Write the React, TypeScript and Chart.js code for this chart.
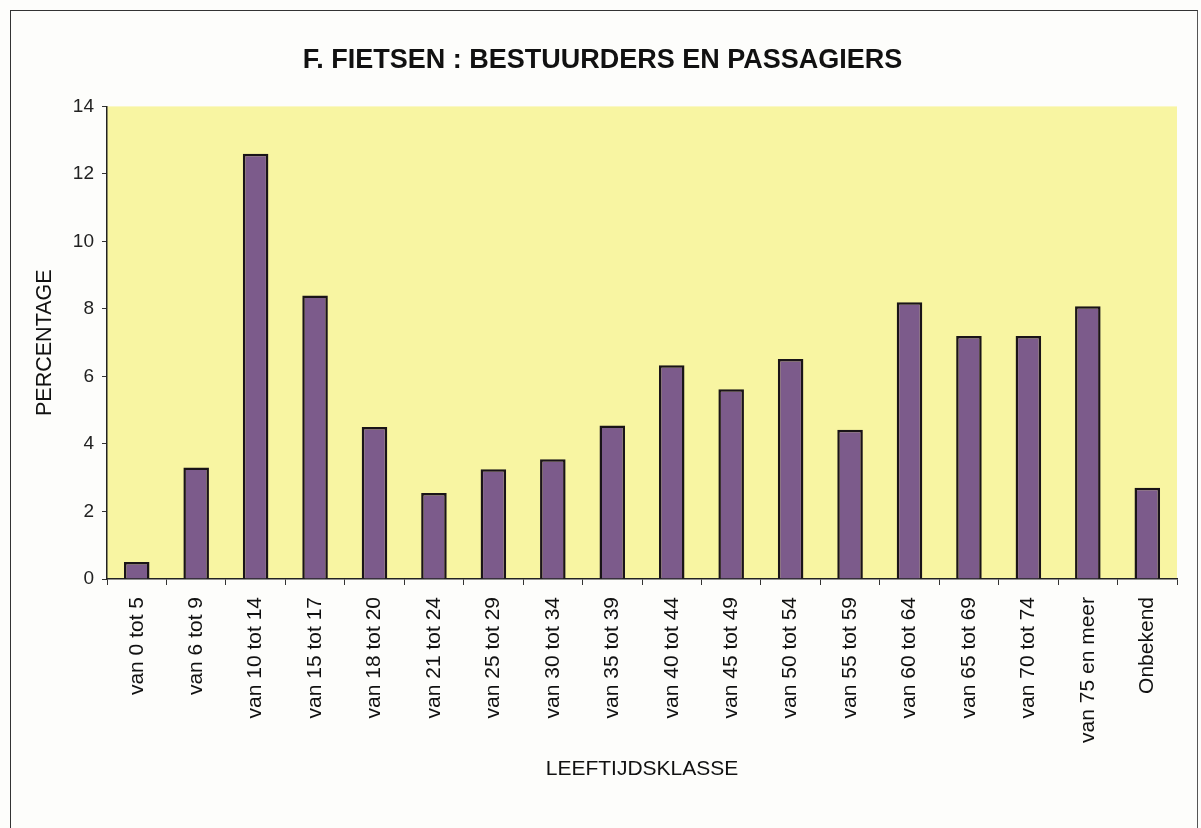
import React, { useEffect, useRef } from "react";
import { Chart, registerables } from "chart.js";

Chart.register(...registerables);

const categories: string[] = [
  "van 0 tot 5", "van 6 tot 9", "van 10 tot 14", "van 15 tot 17", "van 18 tot 20",
  "van 21 tot 24", "van 25 tot 29", "van 30 tot 34", "van 35 tot 39", "van 40 tot 44",
  "van 45 tot 49", "van 50 tot 54", "van 55 tot 59", "van 60 tot 64", "van 65 tot 69",
  "van 70 tot 74", "van 75 en meer", "Onbekend",
];
const percentages: number[] = [
  0.5, 3.3, 12.6, 8.4, 4.5, 2.55, 3.25, 3.55, 4.55, 6.33, 5.62, 6.52, 4.42, 8.2, 7.2, 7.2, 8.08, 2.7,
];
const titleText = "F. FIETSEN : BESTUURDERS EN PASSAGIERS";
const yTitle = "PERCENTAGE";
const xTitle = "LEEFTIJDSKLASSE";

const FONT = "'Liberation Sans', Arial, sans-serif";

const plotBg = {
  id: "plotBg",
  beforeDraw(chart: any) {
    const { ctx, chartArea } = chart;
    ctx.save();
    ctx.fillStyle = "#f8f5a2";
    ctx.fillRect(chartArea.left, chartArea.top, chartArea.right - chartArea.left, chartArea.bottom - chartArea.top);
    ctx.restore();
  },
};

export default function App() {
  const ref = useRef<HTMLCanvasElement | null>(null);
  useEffect(() => {
    if (!ref.current) return;
    const chart = new Chart(ref.current, {
      type: "bar",
      data: {
        labels: categories,
        datasets: [
          {
            data: percentages,
            backgroundColor: "#7c5b8b",
            borderColor: "#1a1418",
            borderWidth: 2.5,
            barPercentage: 0.43,
            categoryPercentage: 1,
          },
        ],
      },
      plugins: [plotBg],
      options: {
        animation: false,
        responsive: false,
        layout: { padding: { left: 28, right: 24, top: 0, bottom: 43 } },
        plugins: {
          legend: { display: false },
          tooltip: { enabled: false },
          title: {
            display: true,
            text: titleText,
            color: "#111",
            font: { family: FONT, size: 27, weight: "bold" },
            padding: { top: 44, bottom: 30 },
          },
        },
        scales: {
          x: {
            offset: true,
            grid: { offset: true, drawOnChartArea: false, color: "#333", tickLength: 6 },
            border: { color: "#222", width: 1.5 },
            ticks: {
              minRotation: 90,
              maxRotation: 90,
              autoSkip: false,
              color: "#111",
              font: { family: FONT, size: 21 },
              padding: 12,
            },
            title: {
              display: true,
              text: xTitle,
              color: "#111",
              font: { family: FONT, size: 21 },
              padding: { top: 2, bottom: 3 },
            },
            afterFit(scale: any) {
              scale.height = 828 - 579 - 43;
            },
          },
          y: {
            min: 0,
            max: 14,
            ticks: {
              stepSize: 2,
              color: "#222",
              font: { family: FONT, size: 19 },
              padding: 8,
            },
            grid: { drawOnChartArea: false, color: "#333", tickLength: 5 },
            border: { color: "#222", width: 1.5 },
            title: {
              display: true,
              text: yTitle,
              color: "#111",
              font: { family: FONT, size: 21.5 },
              padding: { top: 4, bottom: 0 },
            },
            afterFit(scale: any) {
              scale.width = 107 - 28;
            },
          },
        },
      },
    });
    return () => chart.destroy();
  }, []);
  return (
    <div style={{ position: "fixed", left: 0, top: 0, width: 1201, height: 828, background: "#fdfdfb", overflow: "hidden" }}>
      <div
        style={{
          position: "absolute",
          left: 10,
          top: 10,
          width: 1186,
          height: 840,
          borderLeft: "1.5px solid #333",
          borderTop: "1.5px solid #333",
          borderRight: "1.5px solid #555",
        }}
      />
      <canvas ref={ref} width={1201} height={828} style={{ position: "absolute", left: 0, top: 0 }} />
    </div>
  );
}
